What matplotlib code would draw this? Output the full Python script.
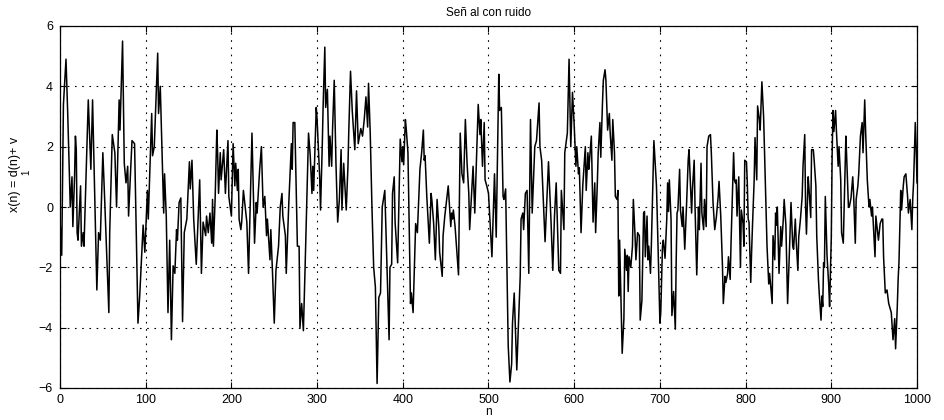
import matplotlib
matplotlib.use("Agg")
import matplotlib.pyplot as plt

# Turning points of the noisy signal x(n) = d(n) + v1(n)
n = [0, 2, 4, 7, 9, 11, 12, 14, 15, 17, 18, 19, 20, 21, 24, 25, 27, 28, 31, 33,
     36, 38, 43, 45, 47, 50, 52, 57, 58, 61, 64, 66, 69, 70, 73, 75, 77, 79, 80, 84,
     87, 91, 93, 95, 97, 99,
     102, 103, 104, 107, 108, 110, 114, 115, 117, 121, 122, 124, 126, 128, 130, 132, 134, 136, 137, 139,
     141, 143, 145, 148, 151, 152, 154, 156, 159, 163, 165, 167, 170, 171, 173, 175, 177, 178, 179, 181,
     183, 184, 185, 187, 188, 191, 193, 196, 197,
     200, 202, 204, 205, 207, 208, 209, 211, 212, 214, 218, 220, 224, 227, 229, 230, 233, 235, 237, 239,
     241, 242, 245, 246, 248, 250, 252, 255, 257, 259, 260, 263, 264, 267, 270, 271, 272, 274, 277, 279,
     280, 282, 284, 286, 290, 292, 294, 295, 296, 299,
     300, 303, 304, 306, 307, 309, 310, 312, 314, 315, 317, 318, 320, 322, 324, 326, 328, 329, 331, 334,
     336, 337, 339, 341, 344, 346, 348, 351, 353, 355, 357, 359, 360, 362, 364, 366, 368, 370, 372, 374,
     376, 379, 384, 385, 387, 388, 390, 391, 394, 397, 399,
     400, 401, 403, 404, 406, 409, 410, 412, 415, 417, 420, 422, 424, 425, 426, 428, 431, 433, 434, 436,
     438, 440, 442, 443, 446, 447, 449, 453, 456, 457, 458, 459, 461, 465, 467, 469, 471, 473, 475, 477,
     478, 482, 484, 488, 490, 491, 493, 495, 496, 498,
     500, 503, 504, 507, 509, 512, 513, 515, 517, 518, 520, 523, 525, 527, 528, 530, 533, 537, 538, 540,
     541, 543, 545, 547, 549, 551, 554, 556, 559, 560, 562, 566, 569, 570, 573, 575, 577, 579, 582, 584,
     585, 588, 589, 592, 594, 596, 598,
     600, 602, 603, 605, 606, 608, 610, 613, 614, 616, 617, 618, 620, 622, 624, 625, 627, 628, 630, 631,
     633, 634, 636, 637, 639, 641, 642, 644, 645, 647, 648, 650, 651, 652, 653, 655, 656, 658, 659, 661,
     662, 663, 664, 666, 668, 669, 671, 672, 674, 676, 677, 679, 681, 682, 683, 685, 686, 687, 689, 690,
     693, 696, 698,
     700, 701, 703, 704, 706, 708, 709, 710, 711, 713, 714, 716, 718, 719, 720, 721, 723, 724, 726, 727,
     729, 731, 733, 734, 737, 738, 740, 741, 743, 745, 746, 748, 749, 751, 752, 754, 755, 757, 759, 760,
     762, 764, 766, 768, 769, 771, 773, 774, 776, 777, 779, 780, 782, 783, 786, 787, 788, 789, 790, 792,
     794, 795, 797, 798, 799,
     801, 802, 803, 804, 806, 807, 808, 810, 811, 813, 814, 816, 817, 818, 819, 821, 825, 827, 828, 831,
     832, 834, 835, 836, 837, 839, 841, 842, 844, 845, 847, 849, 851, 853, 855, 856, 858, 859, 861, 862,
     864, 866, 867, 869, 870, 871, 873, 874, 876, 877, 879, 880, 882, 883, 885, 886, 888, 889, 890, 891,
     892, 893, 895, 897, 898,
     900, 901, 902, 903, 905, 906, 908, 909, 911, 912, 914, 915, 917, 918, 920, 921, 923, 925, 926, 928,
     929, 931, 932, 934, 936, 937, 939, 940, 942, 944, 945, 947, 948, 951, 952, 954, 955, 957, 959, 960,
     961, 963, 965, 967, 969, 970, 972, 974, 975, 977, 978, 979, 981, 982, 984, 985, 987, 989, 990, 992,
     994, 995, 996, 998, 999, 1000]

x = [-0.4, -1.6, 3.4, 4.9, 3.1, 1.0, 0.0, 1.0, -0.65, 1.0, 2.35, 1.9, -0.85, -1.1, 0.7, -1.3, -0.85, -1.3, 1.6, 3.55,
     1.25, 3.55, -2.75, -0.85, -1.1, 1.8, 0.35, -3.5, -0.85, 2.4, 1.8, 0.0, 3.55, 2.55, 5.5, 1.45, 0.8, 1.35, -0.3, 2.2,
     2.1, -3.85, -2.95, -1.75, -0.6, -1.5,
     0.55, -0.4, 0.45, 3.1, 1.7, 2.0, 5.1, 3.1, 4.0, -0.2, 1.1, -0.3, -3.5, -1.1, -4.4, -1.95, -2.2, -0.75, -1.1, 0.15,
     0.3, -3.8, -0.85, -0.4, 1.5, 0.6, 1.55, -0.4, -1.9, 0.9, -2.2, -0.5, -0.95, -0.3, -0.85, -0.2, -1.2, 0.25, -1.3, 0.25,
     2.55, 1.7, 0.45, 1.8, 0.9, 1.9, 0.45, 2.2, 0.35,
     -0.3, 2.1, 0.7, 1.45, 0.55, 1.25, -0.4, -0.75, -0.5, 0.55, -0.5, -2.2, 2.45, -1.2, 0.15, -0.2, 1.25, 2.0, 0.0, 0.35,
     -0.95, -0.4, -1.75, -0.75, -2.2, -3.85, -2.1, -1.3, 0.0, 0.45, -0.3, -0.95, -2.2, 0.15, 2.1, 1.25, 2.8, 2.8, -1.3, -1.3,
     -4.0, -3.2, -4.1, -2.0, 2.45, 1.7, 0.45, 1.35, 0.55, 3.3,
     2.9, 1.0, -0.1, 2.0, 3.3, 5.3, 3.3, 3.9, 1.35, 2.35, 1.35, 2.55, 4.2, 1.45, -0.5, 0.25, 1.9, -0.1, 1.45, -0.1,
     1.35, 2.55, 4.5, 3.2, 1.9, 3.85, 2.1, 2.6, 2.35, 2.9, 3.65, 2.65, 4.1, 2.45, 0.0, -2.0, -2.65, -5.85, -3.0, -2.85,
     0.0, 0.55, -4.4, -2.0, -1.9, 0.45, 1.0, -0.5, -1.85, 2.25, 1.5,
     2.0, 1.4, 2.9, 2.6, 1.8, -3.2, -2.85, -3.5, -0.55, -0.85, 1.25, 1.8, 2.55, 1.55, 1.7, 0.35, -1.2, 0.45, 0.2, -0.55,
     -1.75, 0.25, -0.65, -1.5, -2.3, -0.95, -0.3, 0.7, -0.65, -0.2, -0.4, -0.1, -0.65, -2.25, 2.45, 1.1, 0.8, 2.9, 1.45, 0.45,
     -0.75, 1.35, -0.2, 3.4, 2.4, 2.9, 1.35, 2.8, 0.9, 0.7,
     0.45, -1.1, -1.65, 1.1, -1.0, 4.4, 3.2, 3.3, 0.35, 0.25, 0.6, -4.6, -5.8, -5.2, -3.85, -2.85, -5.4, -2.3, -0.4, -0.2,
     -0.75, 0.45, 0.55, -2.2, 2.9, -0.2, 2.0, 2.2, 3.45, 2.0, 1.55, -1.15, 0.9, 1.5, -0.5, -2.1, -0.3, 0.8, -2.1, -2.2,
     0.55, -0.75, 1.8, 2.45, 4.9, 2.0, 3.8,
     2.7, 1.35, 2.0, 1.1, 1.3, -0.85, 0.7, 2.0, 0.55, 1.8, 1.25, 1.6, 2.35, -0.5, 0.8, -0.85, 0.8, 1.8, 2.8, 1.65,
     3.45, 4.2, 4.55, 4.2, 2.55, 3.1, 2.45, 1.55, 2.9, 1.8, 0.35, 0.25, 0.55, -2.95, -1.1, -3.7, -4.85, -3.7, -1.4, -2.1,
     -1.6, -2.8, -1.65, -2.0, -1.3, 0.25, -0.95, -1.75, -0.85, -0.95, -3.75, -3.1, -0.2, -0.15, -1.65, -0.3, -1.75, -1.3, -2.2, -1.3,
     2.2, 0.7, -1.5,
     -3.85, -3.5, -1.3, -1.1, -1.7, -0.4, 0.8, -0.15, 0.9, -0.4, -3.6, -2.8, -4.05, -1.8, -0.2, -0.1, 1.25, -0.1, -0.65, 0.0,
     -1.4, 0.0, 1.55, 1.9, -0.2, 0.6, 1.55, 0.0, -2.25, 0.0, -0.75, 1.45, -0.2, -0.75, 0.25, -0.65, 2.0, 2.35, 2.4, 1.8,
     0.15, -0.75, -0.3, 0.35, 0.85, -0.3, -1.95, -3.2, -2.3, -2.5, -2.2, -1.65, -2.4, -1.2, 1.8, 0.9, 0.8, 0.9, -0.3, 1.0,
     -2.0, -0.1, -0.55, -1.3, 1.55,
     1.5, 0.8, -0.4, -0.5, -2.5, -1.5, -0.65, 0.9, 2.3, 0.9, 3.35, 2.9, 2.55, 3.4, 4.15, 3.0, -1.3, -2.55, -2.2, -3.2,
     -0.95, -1.75, -0.2, -0.6, 0.0, -2.2, -0.65, -1.3, -0.4, 0.25, -0.6, -3.2, -1.6, 0.15, -1.3, -1.4, -0.4, -1.1, -2.1, -1.0,
     -0.4, 0.35, 1.35, 2.4, 0.0, -0.9, 1.0, 0.6, -0.35, 1.9, 1.9, 1.55, 0.7, -0.95, -2.4, -2.9, -3.75, -2.95, -3.3, -1.85,
     -2.0, 0.35, -1.6, -2.6, -3.3,
     -1.0, 1.8, 3.2, 2.5, 3.2, 2.5, 1.35, 2.0, 0.9, -0.85, -1.2, 0.0, 2.35, 1.6, 0.0, 0.0, 0.3, 1.0, 0.45, -1.2,
     0.25, 0.7, 1.1, 2.35, 2.8, 1.8, 3.55, 2.55, 0.9, 0.0, 0.25, -0.3, 0.0, -1.65, -0.3, -0.85, -1.1, -0.55, -0.4, -0.4,
     -1.65, -2.85, -2.75, -3.2, -3.4, -3.5, -4.4, -3.7, -4.7, -3.3, -2.4, -1.8, 0.55, -0.1, 0.7, 1.0, 1.1, 0.35, -0.2, 0.25,
     -0.75, 0.25, 0.8, 2.8, 2.0, 0.8]

xticks = [0, 100, 200, 300, 400, 500, 600, 700, 800, 900, 1000]
yticks = [-6, -4, -2, 0, 2, 4, 6]

plt.rcParams['font.family'] = ['Liberation Sans', 'DejaVu Sans']

fig = plt.figure(figsize=(9.45, 4.2), dpi=100)
ax = fig.add_axes([60 / 945, 1 - 388 / 420, 857 / 945, 362 / 420])

ax.plot(n, x, color='black', linewidth=1.1)

ax.set_xlim(0, 1000)
ax.set_ylim(-6, 6)
ax.set_xticks(xticks)
ax.set_yticks(yticks)
ax.tick_params(direction='in', top=True, right=True, length=4, width=0.8,
               labelsize=9)
ax.tick_params(axis='y', pad=5)
ax.tick_params(axis='x', pad=4)
ax.grid(True, color='black', linestyle=(0, (1.5, 5)), linewidth=0.8)
for s in ax.spines.values():
    s.set_linewidth(0.9)

ax.set_title('Señ al con ruido', fontsize=8.5, pad=7)
ax.set_xlabel('n', fontsize=8.5, labelpad=0)

# y-axis label with the subscript of v drawn beside it
fig.text(15 / 945, 1 - 174 / 420, 'x(n) = d(n)+ v', fontsize=9, rotation=90,
         ha='center', va='center')
fig.text(26 / 945, 1 - 172 / 420, '1', fontsize=7, rotation=90,
         ha='center', va='center')

fig.savefig('out.png', dpi=100)
